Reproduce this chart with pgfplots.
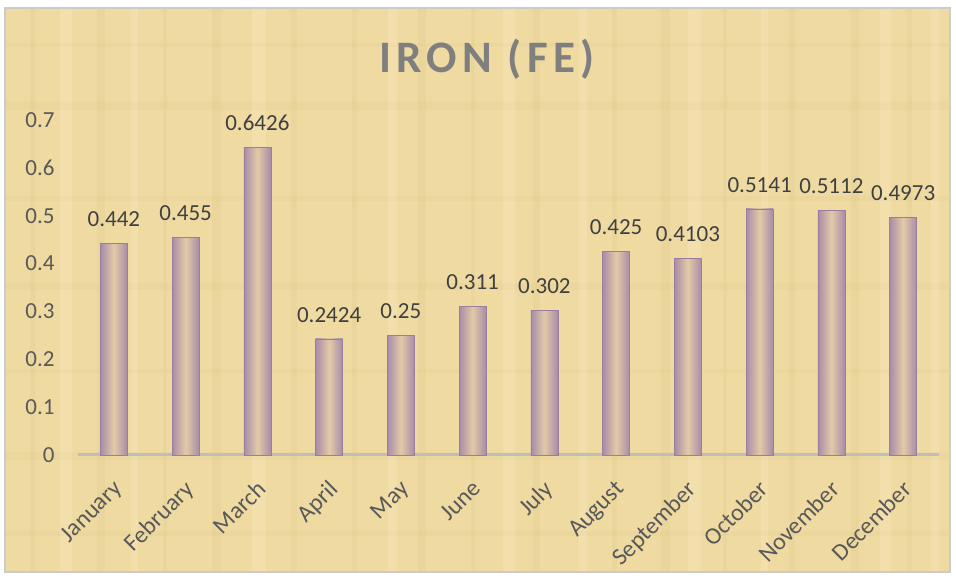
\documentclass[border=0pt]{standalone}
\usepackage{pgfplots}
\pgfplotsset{compat=1.18}
\usepackage{fontspec}
\setmainfont{Carlito}
\newfontfamily\titlefont[LetterSpace=12]{Carlito}
\definecolor{paper}{RGB}{239,218,162}
\definecolor{paperdark}{RGB}{205,180,120}
\definecolor{paperlight}{RGB}{248,234,192}
\definecolor{titlegray}{RGB}{127,127,127}
\definecolor{tickgray}{RGB}{89,89,89}
\definecolor{labelgray}{RGB}{64,64,64}
\definecolor{axisgray}{RGB}{190,190,190}
\definecolor{barpurple}{RGB}{168,140,170}
\definecolor{barmid}{RGB}{226,202,166}
\pgfplotsset{mybar/.style={draw=barpurple!85!black!60!barpurple, line width=0.5pt,
  left color=barpurple, right color=barpurple, middle color=barmid}}
\begin{document}
\begin{tikzpicture}
\path[use as bounding box] (0pt,0pt) rectangle (956pt,578pt);
\fill[white] (0pt,0pt) rectangle (956pt,578pt);
\fill[paper] (5pt,6pt) rectangle (950pt,570pt);
% faint papyrus streaks (decoration only)
\foreach \x/\w in {30/5,97/8,163/4,212/9,291/6,352/5,418/8,471/4,533/7,612/5,661/9,723/4,789/6,851/8,907/5}
  \fill[paperdark, opacity=0.13] (\x pt,6pt) rectangle (\x pt+\w pt,570pt);
\foreach \x/\w in {60/12,131/7,252/14,388/9,503/12,579/8,688/13,761/7,880/11,931/8}
  \fill[paperlight, opacity=0.35] (\x pt,6pt) rectangle (\x pt+\w pt,570pt);
\foreach \y/\h in {42/5,118/8,205/4,288/7,377/5,468/9,531/4}
  \fill[paperdark, opacity=0.09] (5pt,\y pt) rectangle (950pt,\y pt+\h pt);
\draw[axisgray!80, line width=1.5pt] (5pt,6pt) rectangle (950pt,570pt);
\node[font=\titlefont\bfseries\fontsize{45}{50}\selectfont, text=titlegray] at (487pt,519pt) {IRON (FE)};
\begin{axis}[
  at={(78pt,123pt)}, anchor=south west,
  scale only axis, width=861pt, height=335pt,
  xmin=-0.5, xmax=11.5, ymin=0, ymax=0.7,
  axis x line*=bottom, axis y line*=left,
  x axis line style={draw=axisgray, line width=3pt, -},
  y axis line style={draw=none},
  major tick length=0pt,
  xtick={0,...,11},
  xticklabels={January,February,March,April,May,June,July,August,September,October,November,December},
  xticklabel style={xshift=-2pt, yshift=-24pt, rotate=45, anchor=north east, inner sep=0pt,
    font=\fontsize{24}{27}\selectfont, text=tickgray},
  ytick={0,0.1,0.2,0.3,0.4,0.5,0.6,0.7},
  yticklabels={0,0.1,0.2,0.3,0.4,0.5,0.6,0.7},
  yticklabel style={font=\fontsize{23}{26}\selectfont, text=tickgray, xshift=-20pt},
  clip=false,
  ybar, bar width=27pt, bar shift=0pt,
  point meta=explicit symbolic,
  nodes near coords,
  every node near coord/.append style={font=\fontsize{23}{26}\selectfont, text=labelgray, yshift=13pt},
]
\addplot[mybar] coordinates {(0,0.442) [0.442]};
\addplot[mybar] coordinates {(1,0.455) [0.455]};
\addplot[mybar] coordinates {(2,0.6426) [0.6426]};
\addplot[mybar] coordinates {(3,0.2424) [0.2424]};
\addplot[mybar] coordinates {(4,0.25) [0.25]};
\addplot[mybar] coordinates {(5,0.311) [0.311]};
\addplot[mybar] coordinates {(6,0.302) [0.302]};
\addplot[mybar] coordinates {(7,0.425) [0.425]};
\addplot[mybar] coordinates {(8,0.4103) [0.4103]};
\addplot[mybar] coordinates {(9,0.5141) [0.5141]};
\addplot[mybar] coordinates {(10,0.5112) [0.5112]};
\addplot[mybar] coordinates {(11,0.4973) [0.4973]};
\end{axis}
\end{tikzpicture}
\end{document}
